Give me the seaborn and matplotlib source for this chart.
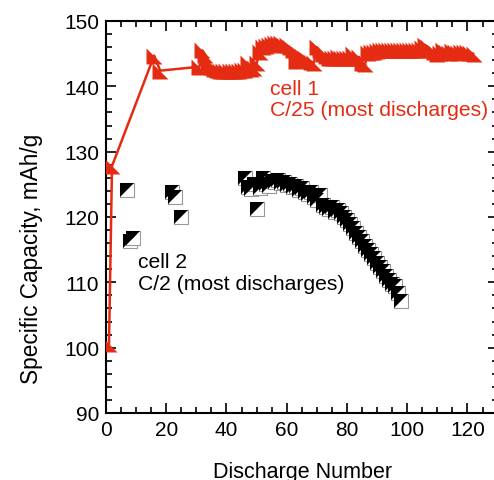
import numpy as np
import pandas as pd
import seaborn as sns
import matplotlib.pyplot as plt
from matplotlib.path import Path
from matplotlib.ticker import MultipleLocator

# cell 1, C/25 (red line + markers)
cell1_x = [1, 2, 16, 18] + list(range(31, 123))
cell1_y = [100.5, 127.8, 144.7, 142.4,
           143.0, 145.5, 144.8, 143.6, 143.0, 142.7, 142.5, 142.4, 142.3, 142.3,
           142.3, 142.3, 142.4, 142.4, 142.5, 142.5, 143.6, 142.6, 142.8, 143.5,
           145.3, 146.0, 146.2, 146.4, 146.5, 146.6, 146.7, 146.6, 146.4, 146.3,
           146.0, 145.5, 143.9, 145.0, 144.6, 144.3, 144.0, 143.8, 143.6, 146.0,
           145.5, 145.0, 144.6, 144.4, 144.3, 144.3, 144.5, 144.4, 144.3, 144.4,
           144.3, 145.0, 144.4, 144.5, 143.5, 143.4, 145.1, 145.2, 145.3, 145.4,
           145.5, 145.5, 145.6, 145.5, 145.6, 145.6, 145.5, 145.6, 145.5, 145.6,
           145.5, 145.5, 145.6, 145.5, 145.8, 146.3, 146.0, 145.5, 145.3, 145.0,
           145.1, 145.6, 145.2, 145.1, 145.4, 145.2, 145.1, 145.3, 145.2, 145.2,
           145.1, 145.0]

# cell 2, C/2 (black/white squares, no line)
cell2_x = [7, 8, 9, 22, 23, 25, 50,
           46, 47, 48, 49, 51, 52, 53, 54, 55, 56, 57, 58, 59, 60, 61, 62, 63,
           64, 65, 66, 67, 68, 69, 70, 71, 72, 73, 74, 75, 76, 77, 78, 79, 80,
           81, 82, 83, 84, 85, 86, 87, 88, 89, 90, 91, 92, 93, 94, 95, 96, 97, 98]
cell2_y = [124.1, 116.3, 116.8, 123.8, 123.0, 120.0, 121.2,
           125.9, 124.6, 124.3, 125.0, 124.5, 126.0, 125.0, 124.8, 125.5, 125.3,
           125.6, 125.2, 125.4, 124.9, 125.1, 124.6, 124.8, 124.2, 124.5, 123.8,
           123.5, 123.9, 123.0, 122.6, 123.3, 121.8, 121.6, 121.2, 121.5, 120.8,
           121.0, 120.6, 120.0, 119.5, 118.9, 118.3, 117.6, 116.9, 116.3, 115.6,
           115.0, 114.4, 113.7, 113.0, 112.4, 111.7, 111.0, 110.4, 109.8, 109.5,
           108.3, 107.2]

red = '#E52B12'

sns.set_style('ticks')
plt.rcParams['font.family'] = ['Liberation Sans', 'DejaVu Sans']
plt.rcParams['text.color'] = 'black'
plt.rcParams['axes.labelcolor'] = 'black'
plt.rcParams['xtick.color'] = 'black'
plt.rcParams['ytick.color'] = 'black'
plt.rcParams['axes.edgecolor'] = 'black'

# marker shapes
tri_red = Path([(-1, -1), (-1, 1), (1, -1), (-1, -1)],
               [Path.MOVETO, Path.LINETO, Path.LINETO, Path.CLOSEPOLY])
tri_blk = Path([(-1, -1), (-1, 1), (1, 1), (-1, -1)],
               [Path.MOVETO, Path.LINETO, Path.LINETO, Path.CLOSEPOLY])

fig = plt.figure(figsize=(4.94, 4.81), dpi=100)
ax = fig.add_axes([106 / 494, 1 - 414 / 481, 391.6 / 494, 392 / 481])

df1 = pd.DataFrame({'n': cell1_x, 'cap': cell1_y})
df2 = pd.DataFrame({'n': cell2_x, 'cap': cell2_y})

sns.scatterplot(data=df2, x='n', y='cap', marker='s', s=90, color='white',
                edgecolor='#999999', linewidth=0.8, ax=ax, zorder=2)
sns.scatterplot(data=df2, x='n', y='cap', marker=tri_blk, s=90, color='black',
                linewidth=0, ax=ax, zorder=3)
sns.lineplot(data=df1, x='n', y='cap', estimator=None, sort=False, color=red,
             linewidth=1.8, marker=tri_red, markersize=11.5, markeredgewidth=0,
             ax=ax, zorder=4)

ax.set_xlim(0, 130)
ax.set_ylim(90, 150)
ax.xaxis.set_major_locator(MultipleLocator(20))
ax.xaxis.set_minor_locator(MultipleLocator(5))
ax.yaxis.set_major_locator(MultipleLocator(10))
ax.yaxis.set_minor_locator(MultipleLocator(2))
ax.tick_params(which='both', direction='in', top=True, right=True,
               width=1.2, labelsize=15)
ax.tick_params(which='major', length=7, pad=5)
ax.tick_params(which='minor', length=4)
for sp in ax.spines.values():
    sp.set_linewidth(1.5)
    sp.set_visible(True)

ax.set_xlabel('Discharge Number', fontsize=15.5, va='center')
ax.set_ylabel('Specific Capacity, mAh/g', fontsize=16.3, va='center')
ax.xaxis.set_label_coords(0.503, -0.148)
ax.yaxis.set_label_coords(-0.189, 0.397)

ax.text(54.4, 141.1, 'cell 1\nC/25 (most discharges)', color=red,
        fontsize=15.2, ha='left', va='top', linespacing=1.15)
ax.text(10.6, 114.6, 'cell 2\nC/2 (most discharges)', color='black',
        fontsize=15.2, ha='left', va='top', linespacing=1.15)

plt.savefig('out.png', dpi=100)
